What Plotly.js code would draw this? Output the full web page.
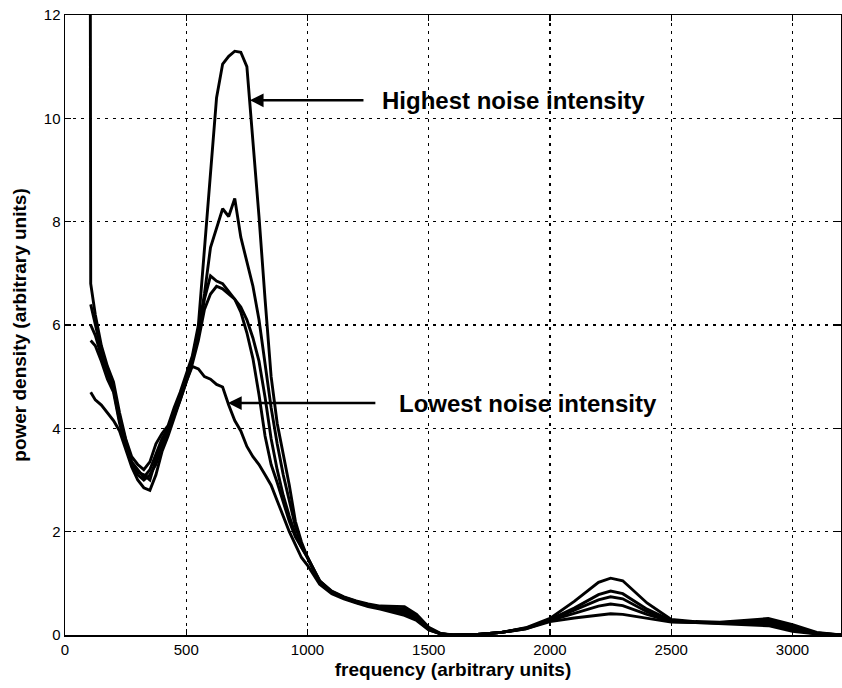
<!DOCTYPE html>
<html>
<head>
<meta charset="utf-8">
<script src="https://cdn.plot.ly/plotly-3.0.1.min.js"></script>
<style>html,body{margin:0;padding:0;background:#fff;}#chart{width:842px;height:688px;}</style>
</head>
<body>
<div id="chart"></div>
<script>
// frequency sample points (arbitrary units)
const freq = [104, 106, 125, 150, 175, 200, 225, 250, 275, 300, 325, 350, 375, 400, 425, 450, 475, 500, 525, 550, 575,
  600, 625, 650, 675, 700, 725, 750, 775, 800, 825, 850, 875, 900, 925, 950, 975, 1000,
  1050, 1100, 1150, 1200, 1250, 1300, 1350, 1400, 1450, 1500, 1550, 1600, 1700, 1800, 1900, 2000,
  2100, 2200, 2250, 2300, 2400, 2500, 2600, 2700, 2800, 2900, 3000, 3100, 3200];

// power density, highest noise intensity
const seriesA = [14, 6.8, 6.2, 5.6, 5.2, 4.9, 4.3, 3.8, 3.45, 3.3, 3.2, 3.35, 3.7, 3.9, 4.05, 4.4, 4.7, 5.05, 5.4, 6.0, 7.5,
  8.9, 10.4, 11.05, 11.2, 11.3, 11.28, 11.0, 9.6, 8.1, 6.5, 5.0, 4.1, 3.5, 2.9, 2.2, 1.8, 1.5,
  1.05, 0.85, 0.74, 0.66, 0.6, 0.56, 0.56, 0.55, 0.4, 0.15, 0.03, 0, 0.01, 0.05, 0.14, 0.32,
  0.65, 1.02, 1.1, 1.05, 0.62, 0.3, 0.26, 0.25, 0.28, 0.32, 0.2, 0.05, 0];
const seriesB = [null, 6.4, 6.0, 5.5, 5.1, 4.8, 4.2, 3.75, 3.35, 3.2, 3.05, 3.2, 3.5, 3.8, 4.0, 4.35, 4.65, 5.0, 5.35, 5.9, 6.6,
  7.5, 7.9, 8.25, 8.1, 8.45, 7.7, 7.2, 6.75, 6.1, 5.3, 4.4, 3.7, 3.1, 2.6, 2.1, 1.75, 1.5,
  1.05, 0.83, 0.72, 0.64, 0.58, 0.53, 0.5, 0.46, 0.33, 0.12, 0.02, 0, 0.01, 0.05, 0.13, 0.3,
  0.52, 0.78, 0.85, 0.8, 0.5, 0.28, 0.25, 0.24, 0.26, 0.28, 0.16, 0.04, 0];
const seriesC = [null, 6.0, 5.8, 5.4, 5.0, 4.75, 4.15, 3.7, 3.3, 3.15, 3.1, 3.0, 3.4, 3.7, 3.95, 4.3, 4.6, 4.95, 5.3, 5.8, 6.5,
  6.95, 6.85, 6.8, 6.65, 6.5, 6.25, 5.85, 5.35, 4.65, 3.85, 3.3, 2.95, 2.55, 2.2, 1.9, 1.7, 1.5,
  1.0, 0.82, 0.72, 0.63, 0.57, 0.52, 0.47, 0.42, 0.3, 0.1, 0.02, 0, 0.01, 0.05, 0.13, 0.29,
  0.48, 0.68, 0.74, 0.7, 0.45, 0.27, 0.25, 0.23, 0.24, 0.25, 0.13, 0.03, 0];
const seriesD = [null, 5.7, 5.6, 5.3, 4.95, 4.7, 4.1, 3.65, 3.3, 3.1, 3.0, 3.1, 3.3, 3.65, 3.9, 4.25, 4.55, 4.9, 5.25, 5.7, 6.3,
  6.6, 6.75, 6.7, 6.6, 6.5, 6.35, 6.1, 5.75, 5.3, 4.6, 3.8, 3.2, 2.7, 2.3, 1.95, 1.7, 1.5,
  1.02, 0.84, 0.73, 0.65, 0.58, 0.54, 0.52, 0.5, 0.36, 0.13, 0.02, 0, 0.01, 0.05, 0.12, 0.28,
  0.42, 0.56, 0.6, 0.57, 0.4, 0.26, 0.24, 0.23, 0.22, 0.22, 0.1, 0.02, 0];
// lowest noise intensity
const seriesE = [null, 4.7, 4.55, 4.45, 4.3, 4.15, 3.95, 3.6, 3.25, 3.0, 2.85, 2.8, 3.1, 3.55, 3.85, 4.2, 4.55, 4.9, 5.2, 5.15, 5.0,
  4.95, 4.85, 4.8, 4.45, 4.15, 3.95, 3.65, 3.45, 3.3, 3.1, 2.9, 2.6, 2.3, 2.0, 1.75, 1.5, 1.35,
  0.98, 0.8, 0.7, 0.62, 0.55, 0.5, 0.44, 0.38, 0.28, 0.1, 0.02, 0, 0.01, 0.05, 0.12, 0.26,
  0.33, 0.39, 0.41, 0.4, 0.33, 0.25, 0.24, 0.22, 0.2, 0.18, 0.07, 0.02, 0];

const xTicks = [0, 500, 1000, 1500, 2000, 2500, 3000];
const yTicks = [0, 2, 4, 6, 8, 10, 12];

const allSeries = [seriesA, seriesB, seriesC, seriesD, seriesE];
const traces = allSeries.map(s => ({
  x: freq, y: s, type: 'scatter', mode: 'lines',
  line: {color: '#000', width: 2.9}, connectgaps: false, hoverinfo: 'skip'
}));

const axisCommon = {
  showline: true, linecolor: '#000', linewidth: 1.5, mirror: 'ticks',
  ticks: 'inside', ticklen: 6, tickcolor: '#000', tickwidth: 1.2,
  showgrid: true, gridcolor: '#000', gridwidth: 1.2, griddash: '3px,5px',
  zeroline: false,
  tickfont: {family: 'Liberation Sans, Arial, sans-serif', size: 15, color: '#000'}
};

const layout = {
  width: 842, height: 688,
  margin: {l: 65, r: 1, t: 15, b: 53},
  paper_bgcolor: '#fff', plot_bgcolor: '#fff',
  showlegend: false,
  xaxis: Object.assign({}, axisCommon, {
    range: [0, 3200], tickvals: xTicks, ticktext: xTicks.map(String),
    title: {text: 'frequency (arbitrary units)', standoff: 6,
      font: {family: 'Liberation Sans, Arial, sans-serif', size: 19, color: '#000', weight: 'bold'}}
  }),
  yaxis: Object.assign({}, axisCommon, {
    range: [0, 12], tickvals: yTicks, ticktext: yTicks.map(String),
    title: {text: 'power density (arbitrary units)', standoff: 12,
      font: {family: 'Liberation Sans, Arial, sans-serif', size: 19, color: '#000', weight: 'bold'}}
  }),
  annotations: [
    {x: 762, y: 10.35, ax: 1237, ay: 10.35, xref: 'x', yref: 'y', axref: 'x', ayref: 'y',
     text: '', showarrow: true, arrowhead: 2, arrowsize: 1.1, arrowwidth: 2.5, arrowcolor: '#000'},
    {x: 1298, y: 10.35, xref: 'x', yref: 'y', xanchor: 'left', yanchor: 'middle', showarrow: false,
     text: '<b>Highest noise intensity</b>',
     font: {family: 'Liberation Sans, Arial, sans-serif', size: 24, color: '#000'}},
    {x: 672, y: 4.49, ax: 1286, ay: 4.49, xref: 'x', yref: 'y', axref: 'x', ayref: 'y',
     text: '', showarrow: true, arrowhead: 2, arrowsize: 1.1, arrowwidth: 2.5, arrowcolor: '#000'},
    {x: 1368, y: 4.49, xref: 'x', yref: 'y', xanchor: 'left', yanchor: 'middle', showarrow: false,
     text: '<b>Lowest noise intensity</b>',
     font: {family: 'Liberation Sans, Arial, sans-serif', size: 24, color: '#000'}}
  ]
};

Plotly.newPlot('chart', traces, layout, {staticPlot: true, displayModeBar: false});
</script>
</body>
</html>
